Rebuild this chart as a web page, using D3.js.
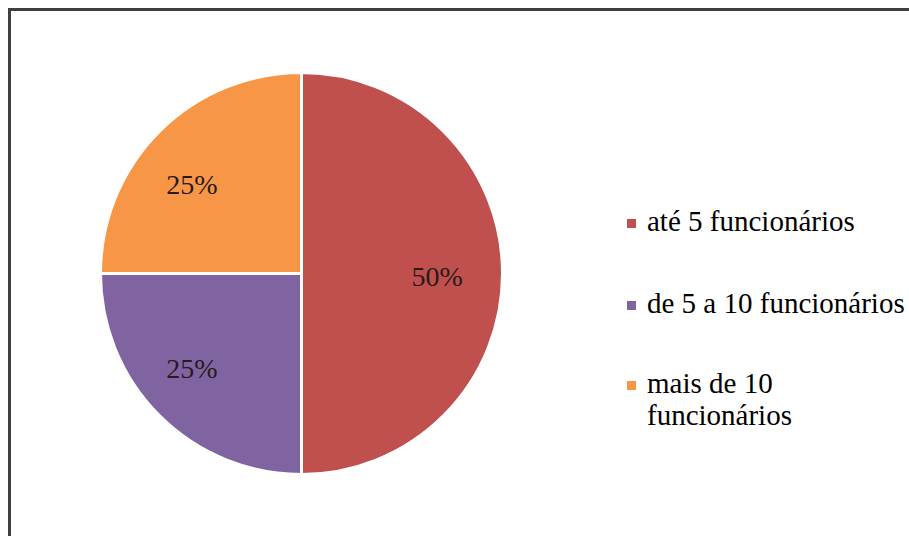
<!DOCTYPE html>
<html><head><meta charset="utf-8">
<script src="https://cdn.jsdelivr.net/npm/d3@7"></script>
<style>html,body{margin:0;padding:0;background:#fff;overflow:hidden}</style>
</head><body>
<svg id="c" width="909" height="536"></svg>
<script>
const categories = ["até 5 funcionários", "de 5 a 10 funcionários", "mais de 10 funcionários"];
const values = [50, 25, 25];
const legendLines = [["até 5 funcionários"], ["de 5 a 10 funcionários"], ["mais de 10", "funcionários"]];
const colors = ["#C0504D", "#8064A2", "#F79646"];
const FONT = "'Liberation Serif'";

const svg = d3.select("#c");
svg.append("rect").attr("x", 9.5).attr("y", 9.5).attr("width", 920).attr("height", 540)
  .attr("fill", "#fff").attr("stroke", "#404040").attr("stroke-width", 3);

const cx = 301.5, cy = 273.5, r = 201;
const pie = d3.pie().sort(null).value(d => d);
const arcs = pie(values);
const arc = d3.arc().innerRadius(0).outerRadius(r);
const labelArc = d3.arc().innerRadius(r * 0.65).outerRadius(r * 0.65);
const g = svg.append("g").attr("transform", `translate(${cx},${cy})`);
g.selectAll("path").data(arcs).join("path")
  .attr("d", arc).attr("fill", (d, i) => colors[i])
  .attr("stroke", "#fff").attr("stroke-width", 3).attr("stroke-linejoin", "round");
g.selectAll("text").data(arcs).join("text")
  .attr("transform", d => { const c = labelArc.centroid(d); return `translate(${c[0] * 1.1 - 8},${c[1]})`; })
  .attr("text-anchor", "middle").attr("dy", "0.45em")
  .style("font-family", FONT).attr("font-size", 28)
  .attr("fill", "#2a1a1a")
  .text(d => d.data + "%");

const lg = svg.append("g");
const ys = [231, 313, 393];
legendLines.forEach((lines, i) => {
  lg.append("rect").attr("x", 627).attr("y", ys[i] - 12).attr("width", 9).attr("height", 9).attr("fill", colors[i]);
  const t = lg.append("text").attr("x", 647).attr("y", ys[i])
    .style("font-family", FONT).attr("font-size", 29).attr("fill", "#000");
  lines.forEach((l, j) => t.append("tspan").attr("x", 647).attr("dy", j === 0 ? 0 : 32).text(l));
});
</script>
</body></html>
